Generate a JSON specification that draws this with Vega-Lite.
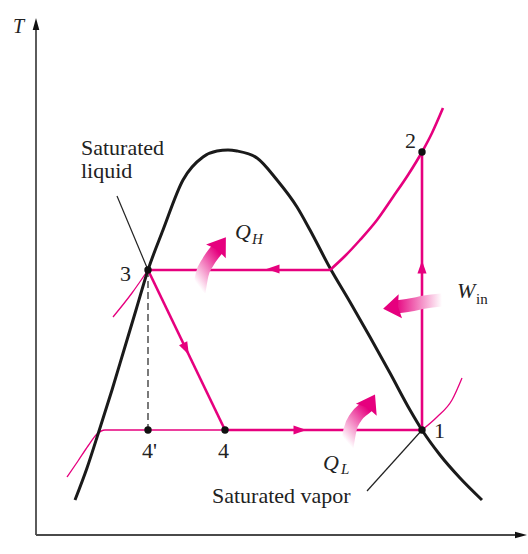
{
  "$schema": "https://vega.github.io/schema/vega-lite/v6.json",
  "width": 528,
  "height": 554,
  "padding": 0,
  "autosize": {"type": "fit", "contains": "padding"},
  "config": {"view": {"stroke": null}},
  "datasets": {
    "dome": [
      {"s": 75, "T": 54}, {"s": 87, "T": 86}, {"s": 99, "T": 123}, {"s": 112, "T": 164},
      {"s": 124, "T": 204}, {"s": 136, "T": 244}, {"s": 148, "T": 284}, {"s": 163, "T": 324},
      {"s": 183, "T": 374}, {"s": 203, "T": 397}, {"s": 217, "T": 403}, {"s": 228, "T": 404},
      {"s": 237, "T": 403}, {"s": 257, "T": 396}, {"s": 277, "T": 374}, {"s": 297, "T": 347},
      {"s": 310, "T": 324}, {"s": 330, "T": 286}, {"s": 350, "T": 252}, {"s": 370, "T": 217},
      {"s": 390, "T": 181}, {"s": 410, "T": 144}, {"s": 422, "T": 124}, {"s": 440, "T": 99},
      {"s": 460, "T": 76}, {"s": 482, "T": 54}
    ],
    "cycle": [
      {"seg": "3-3v", "ord": 0, "s": 148, "T": 284}, {"seg": "3-3v", "ord": 1, "s": 330, "T": 284},
      {"seg": "3-4", "ord": 0, "s": 148, "T": 284}, {"seg": "3-4", "ord": 1, "s": 225, "T": 124},
      {"seg": "4-1", "ord": 0, "s": 225, "T": 124}, {"seg": "4-1", "ord": 1, "s": 422, "T": 124},
      {"seg": "1-2", "ord": 0, "s": 422, "T": 124}, {"seg": "1-2", "ord": 1, "s": 422, "T": 402}
    ],
    "superheat": [
      {"s": 330, "T": 284}, {"s": 345, "T": 298}, {"s": 360, "T": 314}, {"s": 377, "T": 334},
      {"s": 393, "T": 357}, {"s": 408, "T": 379}, {"s": 422, "T": 402}, {"s": 432, "T": 421},
      {"s": 443, "T": 446}
    ],
    "isobars": [
      {"seg": "low", "s": 67, "T": 77}, {"seg": "low", "s": 78, "T": 93}, {"seg": "low", "s": 88, "T": 108},
      {"seg": "low", "s": 97, "T": 120}, {"seg": "low", "s": 105, "T": 124}, {"seg": "low", "s": 225, "T": 124},
      {"seg": "vap", "s": 422, "T": 124}, {"seg": "vap", "s": 437, "T": 137}, {"seg": "vap", "s": 452, "T": 154},
      {"seg": "vap", "s": 462, "T": 176},
      {"seg": "high", "s": 113, "T": 237}, {"seg": "high", "s": 132, "T": 261}, {"seg": "high", "s": 148, "T": 284}
    ],
    "leaders": [
      {"seg": "liq", "ord": 0, "s": 117, "T": 358}, {"seg": "liq", "ord": 1, "s": 148, "T": 284},
      {"seg": "vap", "ord": 0, "s": 367, "T": 63}, {"seg": "vap", "ord": 1, "s": 422, "T": 124}
    ],
    "dashed": [{"s": 148, "T": 284}, {"s": 148, "T": 124}],
    "states": [
      {"state": "1", "s": 422, "T": 124}, {"state": "2", "s": 422, "T": 402},
      {"state": "3", "s": 148, "T": 284}, {"state": "4", "s": 225, "T": 124},
      {"state": "4'", "s": 148, "T": 124}
    ],
    "qh": [
      {"s": 199, "T": 262}, {"s": 202, "T": 279}, {"s": 208, "T": 292}, {"s": 215, "T": 302}, {"s": 219, "T": 307}
    ],
    "ql": [
      {"s": 347, "T": 107}, {"s": 350, "T": 124}, {"s": 356, "T": 137}, {"s": 364, "T": 145}, {"s": 369, "T": 149}
    ],
    "win": [
      {"s": 442, "T": 254}, {"s": 425, "T": 252}, {"s": 410, "T": 249}, {"s": 395, "T": 247}
    ],
    "axes": [
      {"ax": "T", "ord": 0, "s": 36, "T": 19}, {"ax": "T", "ord": 1, "s": 36, "T": 528},
      {"ax": "s", "ord": 0, "s": 36, "T": 19}, {"ax": "s", "ord": 1, "s": 518, "T": 19}
    ],
    "labels": [
      {"text": "Saturated", "s": 81, "T": 399},
      {"text": "liquid", "s": 81, "T": 376},
      {"text": "Saturated vapor", "s": 212, "T": 51},
      {"text": "1", "s": 434, "T": 116},
      {"text": "2", "s": 405, "T": 406},
      {"text": "3", "s": 120, "T": 273},
      {"text": "4'", "s": 142, "T": 96},
      {"text": "4", "s": 218, "T": 96}
    ],
    "italics": [
      {"text": "Q", "s": 235, "T": 315},
      {"text": "Q", "s": 323, "T": 84},
      {"text": "W", "s": 457, "T": 256}
    ],
    "subs": [
      {"text": "H", "s": 252, "T": 310},
      {"text": "L", "s": 341, "T": 80}
    ]
  },
  "encoding": {
    "x": {"field": "s", "type": "quantitative", "axis": null, "scale": {"domain": [0, 528], "nice": false, "zero": false}},
    "y": {"field": "T", "type": "quantitative", "axis": null, "scale": {"domain": [0, 554], "nice": false, "zero": false}}
  },
  "layer": [
    {
      "data": {"name": "axes"},
      "mark": {"type": "line", "color": "#4a4a4a", "strokeWidth": 1.8},
      "encoding": {"detail": {"field": "ax"}, "order": {"field": "ord"}}
    },
    {
      "data": {"values": [{"s": 36, "T": 530}]},
      "mark": {"type": "point", "shape": "M0,-1L0.55,1L-0.55,1Z", "filled": true, "size": 144, "angle": 0, "color": "#111111", "opacity": 1, "strokeWidth": 0},
      "encoding": {}
    },
    {
      "data": {"values": [{"s": 521, "T": 19}]},
      "mark": {"type": "point", "shape": "M0,-1L0.55,1L-0.55,1Z", "filled": true, "size": 144, "angle": 90, "color": "#111111", "opacity": 1, "strokeWidth": 0},
      "encoding": {}
    },
    {
      "data": {"name": "isobars"},
      "mark": {"type": "line", "color": "#e6007e", "strokeWidth": 1.3, "interpolate": "monotone"},
      "encoding": {"detail": {"field": "seg"}}
    },
    {
      "data": {"name": "dome"},
      "mark": {"type": "line", "color": "#1a1a1a", "strokeWidth": 3, "interpolate": "monotone"},
      "encoding": {}
    },
    {
      "data": {"name": "dashed"},
      "mark": {"type": "line", "color": "#222222", "strokeWidth": 1.2, "strokeDash": [7, 4]},
      "encoding": {}
    },
    {
      "data": {"name": "leaders"},
      "mark": {"type": "line", "color": "#222222", "strokeWidth": 1.2},
      "encoding": {"detail": {"field": "seg"}, "order": {"field": "ord"}}
    },
    {
      "data": {"name": "cycle"},
      "mark": {"type": "line", "color": "#e6007e", "strokeWidth": 2.6},
      "encoding": {"detail": {"field": "seg"}, "order": {"field": "ord"}}
    },
    {
      "data": {"name": "superheat"},
      "mark": {"type": "line", "color": "#e6007e", "strokeWidth": 2.6, "interpolate": "monotone"},
      "encoding": {}
    },
    {
      "data": {"values": [{"s": 273, "T": 285}]},
      "mark": {"type": "point", "shape": "M0,-1L0.7,1L-0.7,1Z", "filled": true, "size": 169, "angle": 270, "color": "#e6007e", "opacity": 1, "strokeWidth": 0},
      "encoding": {}
    },
    {
      "data": {"values": [{"s": 186, "T": 205}]},
      "mark": {"type": "point", "shape": "M0,-1L0.7,1L-0.7,1Z", "filled": true, "size": 169, "angle": 154, "color": "#e6007e", "opacity": 1, "strokeWidth": 0},
      "encoding": {}
    },
    {
      "data": {"values": [{"s": 300, "T": 124}]},
      "mark": {"type": "point", "shape": "M0,-1L0.7,1L-0.7,1Z", "filled": true, "size": 169, "angle": 90, "color": "#e6007e", "opacity": 1, "strokeWidth": 0},
      "encoding": {}
    },
    {
      "data": {"values": [{"s": 422, "T": 287}]},
      "mark": {"type": "point", "shape": "M0,-1L0.7,1L-0.7,1Z", "filled": true, "size": 169, "angle": 0, "color": "#e6007e", "opacity": 1, "strokeWidth": 0},
      "encoding": {}
    },
    {
      "data": {"name": "states"},
      "mark": {"type": "point", "shape": "circle", "filled": true, "size": 55, "color": "#111111", "opacity": 1, "strokeWidth": 0},
      "encoding": {}
    },
    {
      "data": {"name": "qh"},
      "mark": {"type": "line", "strokeWidth": 13, "strokeCap": "butt", "interpolate": "monotone",
        "stroke": {"gradient": "linear", "x1": 0.2, "y1": 1, "x2": 0.8, "y2": 0, "stops": [{"offset": 0, "color": "#ffffff"}, {"offset": 1, "color": "#e6007e"}]}},
      "encoding": {"order": {"field": "T"}}
    },
    {
      "data": {"values": [{"s": 219, "T": 307}]},
      "mark": {"type": "point", "shape": "M0,-1L1,0.45L0,0.25L-1,0.45Z", "filled": true, "size": 576, "angle": 35, "color": "#e6007e", "opacity": 1, "strokeWidth": 0},
      "encoding": {}
    },
    {
      "data": {"name": "ql"},
      "mark": {"type": "line", "strokeWidth": 13, "strokeCap": "butt", "interpolate": "monotone",
        "stroke": {"gradient": "linear", "x1": 0.2, "y1": 1, "x2": 0.8, "y2": 0, "stops": [{"offset": 0, "color": "#ffffff"}, {"offset": 1, "color": "#e6007e"}]}},
      "encoding": {"order": {"field": "T"}}
    },
    {
      "data": {"values": [{"s": 369, "T": 149}]},
      "mark": {"type": "point", "shape": "M0,-1L1,0.45L0,0.25L-1,0.45Z", "filled": true, "size": 576, "angle": 30, "color": "#e6007e", "opacity": 1, "strokeWidth": 0},
      "encoding": {}
    },
    {
      "data": {"name": "win"},
      "mark": {"type": "line", "strokeWidth": 13, "strokeCap": "butt", "interpolate": "monotone",
        "stroke": {"gradient": "linear", "x1": 1, "y1": 0.5, "x2": 0, "y2": 0.5, "stops": [{"offset": 0, "color": "#ffffff"}, {"offset": 1, "color": "#e6007e"}]}},
      "encoding": {}
    },
    {
      "data": {"values": [{"s": 395, "T": 247}]},
      "mark": {"type": "point", "shape": "M0,-1L1,0.45L0,0.25L-1,0.45Z", "filled": true, "size": 576, "angle": 262, "color": "#e6007e", "opacity": 1, "strokeWidth": 0},
      "encoding": {}
    },
    {
      "data": {"name": "labels"},
      "mark": {"type": "text", "font": "Liberation Serif", "fontSize": 22, "align": "left", "baseline": "alphabetic", "color": "#222222"},
      "encoding": {"text": {"field": "text"}}
    },
    {
      "data": {"name": "italics"},
      "mark": {"type": "text", "font": "Liberation Serif", "fontSize": 22, "fontStyle": "italic", "align": "left", "baseline": "alphabetic", "color": "#222222"},
      "encoding": {"text": {"field": "text"}}
    },
    {
      "data": {"name": "subs"},
      "mark": {"type": "text", "font": "Liberation Serif", "fontSize": 15, "fontStyle": "italic", "align": "left", "baseline": "alphabetic", "color": "#222222"},
      "encoding": {"text": {"field": "text"}}
    },
    {
      "data": {"values": [{"text": "in", "s": 476, "T": 250}]},
      "mark": {"type": "text", "font": "Liberation Serif", "fontSize": 15, "align": "left", "baseline": "alphabetic", "color": "#222222"},
      "encoding": {"text": {"field": "text"}}
    },
    {
      "data": {"values": [{"text": "T", "s": 13, "T": 521}]},
      "mark": {"type": "text", "font": "Liberation Serif", "fontSize": 20, "fontStyle": "italic", "align": "left", "baseline": "alphabetic", "color": "#222222"},
      "encoding": {"text": {"field": "text"}}
    }
  ]
}
